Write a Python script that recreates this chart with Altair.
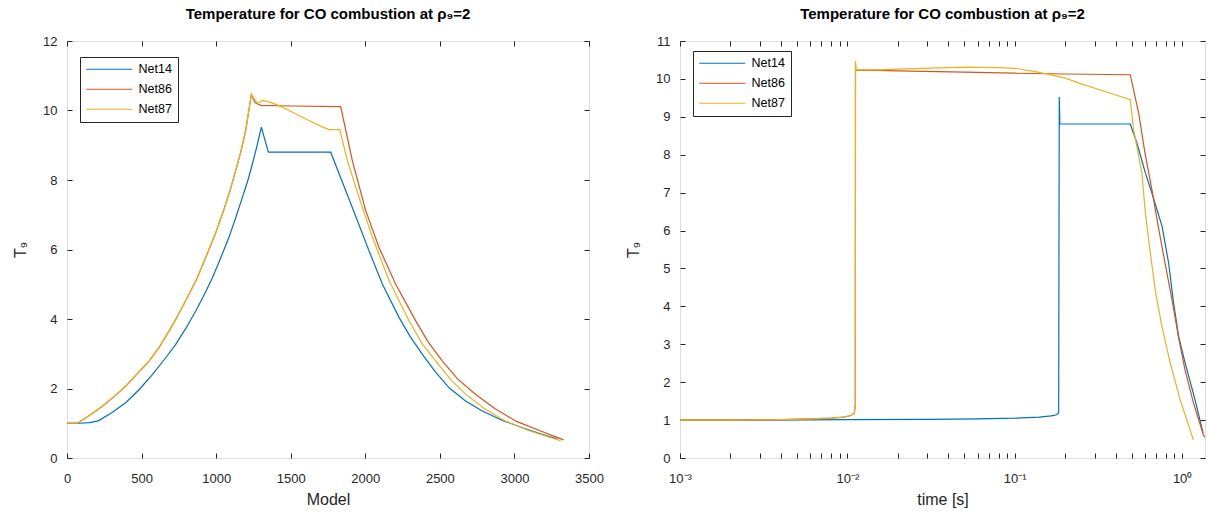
import altair as alt
import pandas as pd

SERIES = ["Net14", "Net86", "Net87"]
COLORS = ["#0072BD", "#D95319", "#EDB120"]

# ---------------- left panel: T9 vs Model ----------------
l14_x = [0, 80, 150, 210, 300, 393, 480, 572, 650, 729, 800, 863, 920, 975, 1030, 1086, 1130, 1176,
         1210, 1243, 1275, 1303, 1350, 1768, 1869, 1950, 2025, 2115, 2227, 2300, 2383, 2470, 2562,
         2670, 2785, 2920, 3054, 3170, 3288]
l14_y = [1.0, 1.0, 1.02, 1.07, 1.3, 1.59, 1.95, 2.40, 2.82, 3.27, 3.75, 4.23, 4.7, 5.19, 5.75, 6.35, 6.9, 7.50,
         7.95, 8.46, 9.0, 9.52, 8.80, 8.80, 7.69, 6.8, 5.96, 5.0, 4.04, 3.5, 2.98, 2.48, 2.02,
         1.65, 1.35, 1.08, 0.87, 0.7, 0.55]

l87_x = [0, 69, 150, 237, 320, 394, 470, 550, 620, 684, 750, 818, 875, 930, 990, 1042, 1090, 1131, 1165,
         1198, 1236, 1276, 1314, 1360, 1422, 1489, 1560, 1623, 1700, 1757, 1829, 1880, 1958, 2048, 2160,
         2294, 2380, 2473, 2570, 2674, 2800, 2942, 3090, 3233, 3310]
l87_y = [1.0, 1.0, 1.22, 1.49, 1.78, 2.07, 2.42, 2.79, 3.2, 3.65, 4.15, 4.71, 5.2, 5.77, 6.4, 7.02, 7.65, 8.27, 8.8,
         9.42, 10.46, 10.21, 10.29, 10.24, 10.14, 10.0, 9.84, 9.71, 9.55, 9.45, 9.45, 8.56, 7.5, 6.35, 5.10,
         3.94, 3.3, 2.79, 2.27, 1.83, 1.42, 1.06, 0.8, 0.60, 0.5]

l86_x = [0, 69, 150, 237, 320, 394, 470, 550, 620, 684, 750, 818, 875, 930, 990, 1042, 1090, 1131, 1165,
         1198, 1236, 1262, 1300, 1500, 1835, 1913, 2003, 2092, 2204, 2339, 2420, 2517, 2620, 2741,
         2870, 3010, 3180, 3330]
l86_y = [1.0, 1.0, 1.22, 1.49, 1.78, 2.07, 2.42, 2.79, 3.2, 3.65, 4.15, 4.71, 5.2, 5.77, 6.4, 7.02, 7.65, 8.27, 8.8,
         9.42, 10.46, 10.22, 10.15, 10.13, 10.11, 8.56, 7.12, 6.06, 5.0, 3.94, 3.35, 2.79, 2.27, 1.83,
         1.42, 1.06, 0.77, 0.52]

# ---------------- right panel: T9 vs time ----------------
r14_x = [0.001, 0.003, 0.01, 0.03, 0.06, 0.1, 0.14, 0.165, 0.178, 0.183, 0.1845, 0.186, 0.49, 0.537,
         0.603, 0.66, 0.759, 0.83, 0.889, 0.953, 1.042, 1.194, 1.334]
r14_y = [1.0, 1.0, 1.01, 1.02, 1.03, 1.05, 1.08, 1.11, 1.14, 1.2, 9.52, 8.81, 8.81, 8.31,
         7.52, 6.99, 6.11, 5.15, 4.09, 3.21, 2.51, 1.54, 0.66]

r87_x = [0.001, 0.002, 0.004, 0.006, 0.008, 0.0095, 0.0105, 0.0110, 0.01115, 0.01118, 0.0113, 0.015,
         0.025, 0.05, 0.08, 0.1, 0.13, 0.16, 0.2, 0.25, 0.35, 0.49, 0.513, 0.575, 0.603, 0.646, 0.69,
         0.757, 0.849, 0.973, 1.167]
r87_y = [1.0, 1.0, 1.01, 1.03, 1.05, 1.08, 1.12, 1.18, 1.4, 10.47, 10.25, 10.24,
         10.27, 10.31, 10.3, 10.28, 10.2, 10.12, 10.02, 9.87, 9.66, 9.45, 8.66, 7.52, 6.46, 5.41, 4.44,
         3.47, 2.51, 1.54, 0.48]

r86_x = [0.001, 0.002, 0.004, 0.006, 0.008, 0.0095, 0.0105, 0.0110, 0.01115, 0.01118, 0.0113, 0.02,
         0.05, 0.1, 0.2, 0.49, 0.55, 0.60, 0.66, 0.72, 0.79, 0.87, 0.95, 1.04, 1.17, 1.34, 1.37]
r86_y = [1.0, 1.0, 1.01, 1.03, 1.05, 1.08, 1.12, 1.18, 1.4, 10.27, 10.24, 10.21,
         10.18, 10.15, 10.13, 10.11, 9.10, 8.05, 7.08, 6.11, 5.15, 4.18, 3.21, 2.33, 1.45, 0.61, 0.55]

left_x_ticks = [0, 500, 1000, 1500, 2000, 2500, 3000, 3500]
left_y_ticks = [0, 2, 4, 6, 8, 10, 12]
right_y_ticks = list(range(0, 12))
right_x_ticks = [m * 10.0 ** e for e in (-3, -2, -1) for m in range(1, 10)] + [1.0]

TITLE = "Temperature for CO combustion at ρ₉=2"
FONT = "Liberation Sans"
TXT = "#262626"


def frame(parts):
    rows = []
    for name, xs, ys in parts:
        for i, (a, b) in enumerate(zip(xs, ys)):
            rows.append({"series": name, "x": a, "T": b, "i": i})
    return pd.DataFrame(rows)


df_left = frame([("Net14", l14_x, l14_y), ("Net86", l86_x, l86_y), ("Net87", l87_x, l87_y)])
df_right = frame([("Net14", r14_x, r14_y), ("Net86", r86_x, r86_y), ("Net87", r87_x, r87_y)])

color_scale = alt.Scale(domain=SERIES, range=COLORS)


def legend(lx, ly):
    return alt.Legend(
        title=None, orient="none", legendX=lx, legendY=ly,
        symbolType="M-4.6,0H4.6", symbolSize=100, symbolStrokeWidth=1.2,
        symbolOffset=17, labelOffset=23,
        labelFont=FONT, labelFontSize=12.5, labelColor="black",
        labelExpr="datum.label + '\u00a0\u00a0\u00a0'",
        strokeColor="#262626", fillColor="white", padding=6, rowPadding=7,
        cornerRadius=0,
    )


def ax(values, orient, title=None, labels=True, labelExpr=None, fmt=None):
    kw = dict(values=values, orient=orient, offset=-5, tickSize=5, tickColor=TXT, tickWidth=1,
              domain=False, grid=False, labels=labels, labelFont=FONT, labelFontSize=13,
              labelColor=TXT, labelFlush=False, labelOverlap=False, labelPadding=10,
              titleFont=FONT, titleFontSize=16, titleFontWeight="normal", titleColor=TXT)
    if orient in ("bottom", "top"):
        kw["labelPadding"] = 14
        kw["titlePadding"] = 6
    else:
        kw["titlePadding"] = 14
    kw["title"] = title if title is not None else None
    if labelExpr is not None:
        kw["labelExpr"] = labelExpr
    if fmt is not None:
        kw["format"] = fmt
    return alt.Axis(**kw)


def panel(df, xscale, yscale, xt, yt, xtitle, lx, ly, width, height, labelExpr=None):
    base = alt.Chart(df)
    xfmt = None if labelExpr is not None else "d"
    lines = base.mark_line(strokeWidth=1.2, clip=True).encode(
        x=alt.X("x:Q", scale=xscale, axis=ax(xt, "bottom", xtitle, labelExpr=labelExpr, fmt=xfmt)),
        y=alt.Y("T:Q", scale=yscale, axis=ax(yt, "left", "T₉", fmt="d")),
        color=alt.Color("series:N", scale=color_scale, legend=legend(lx, ly)),
        order=alt.Order("i:Q"),
    )
    ticks = base.mark_line(opacity=0).encode(
        x=alt.X("x:Q", scale=xscale, axis=ax(xt, "top", None, labels=False)),
        y=alt.Y("T:Q", scale=yscale, axis=ax(yt, "right", None, labels=False)),
        detail="series:N",
    )
    return alt.layer(lines, ticks).resolve_axis(x="independent", y="independent").properties(
        width=width, height=height,
        title=alt.TitleParams(text=TITLE, font=FONT, fontSize=15, fontWeight="bold", color="black",
                              anchor="middle", frame="group", offset=13),
    )


log_label = ("abs(log(datum.value)/LN10 - round(log(datum.value)/LN10)) < 1e-6 ? "
             "['10⁻³','10⁻²','10⁻¹','10⁰'][round(log(datum.value)/LN10)+3] : ''")

left = panel(df_left, alt.Scale(domain=[0, 3500], nice=False, zero=False),
             alt.Scale(domain=[0, 12], nice=False, zero=False),
             left_x_ticks, left_y_ticks, "Model", 13, 16, 522, 417)
right = panel(df_right, alt.Scale(type="log", domain=[0.001, 1.37], nice=False),
              alt.Scale(domain=[0, 11], nice=False, zero=False),
              right_x_ticks, right_y_ticks, "time [s]", 13, 10, 525, 417, labelExpr=log_label)

chart = alt.hconcat(left, right, spacing=21).resolve_legend(color="independent").resolve_scale(
    x="independent", y="independent"
).configure_view(
    stroke="#262626", strokeWidth=1
).configure(
    padding={"left": 12, "top": 6, "right": 0, "bottom": 0}, font=FONT, background="white"
)

chart.save("out.html", embed_options={"renderer": "svg", "actions": False})
